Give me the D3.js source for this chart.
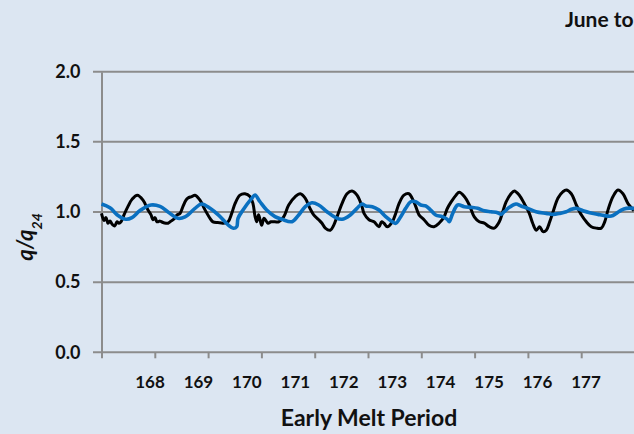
<!DOCTYPE html>
<html>
<head>
<meta charset="utf-8">
<script src="https://cdn.jsdelivr.net/npm/d3@7/dist/d3.min.js"></script>
<style>
  html, body { margin: 0; padding: 0; background: #DCE6F2; overflow: hidden; }
  svg { display: block; font-family: Lato, "Open Sans", sans-serif; }
</style>
</head>
<body>
<svg id="chart" width="634" height="434"></svg>
<script>
// Day of year (decimal) and normalised discharge q/q24 for the measured record
const measuredDay = [167.000,167.047,167.084,167.122,167.159,167.197,167.248,167.291,167.328,167.366,167.422,167.497,167.572,167.672,167.779,167.872,167.929,167.966,168.004,168.041,168.098,168.154,168.210,168.248,168.304,168.360,168.417,168.473,168.529,168.585,168.623,168.692,168.754,168.848,168.942,169.036,169.092,169.186,169.280,169.373,169.443,169.505,169.598,169.692,169.786,169.842,169.880,169.912,169.946,169.974,170.006,170.049,170.124,170.180,170.255,170.325,170.418,170.512,170.636,170.730,170.818,170.912,170.981,171.075,171.137,171.199,171.293,171.356,171.418,171.512,171.606,171.700,171.794,171.887,171.925,172.019,172.113,172.206,172.253,172.300,172.362,172.456,172.520,172.582,172.675,172.769,172.826,172.895,172.957,173.051,173.145,173.238,173.332,173.426,173.488,173.557,173.651,173.713,173.807,173.901,173.994,174.088,174.182,174.276,174.370,174.463,174.527,174.589,174.683,174.745,174.839,174.932,175.026,175.090,175.158,175.221,175.283,175.345,175.409,175.471,175.565,175.659,175.720,175.814,175.908,176.002,176.096,176.189,176.283,176.377,176.441,176.503,176.597,176.690,176.784,176.878,176.990];
const measuredQ   = [0.99,0.94,0.96,0.92,0.935,0.915,0.90,0.93,0.92,0.93,0.98,1.04,1.09,1.12,1.085,1.015,0.98,0.945,0.96,0.93,0.935,0.925,0.92,0.92,0.935,0.95,0.98,0.99,1.04,1.085,1.10,1.11,1.12,1.085,1.015,0.955,0.93,0.925,0.92,0.93,0.99,1.06,1.12,1.13,1.11,1.06,0.97,0.93,0.98,0.945,0.905,0.955,0.92,0.93,0.93,0.93,0.965,1.05,1.11,1.13,1.10,1.025,0.98,0.945,0.92,0.885,0.87,0.905,0.965,1.06,1.13,1.15,1.12,1.04,0.99,0.945,0.93,0.895,0.93,0.92,0.895,0.93,0.99,1.06,1.12,1.13,1.10,1.04,0.98,0.945,0.905,0.895,0.92,0.965,1.025,1.07,1.12,1.14,1.11,1.05,0.965,0.93,0.92,0.895,0.885,0.93,1.00,1.07,1.13,1.15,1.12,1.06,0.99,0.92,0.87,0.895,0.86,0.87,0.93,1.00,1.10,1.145,1.157,1.13,1.05,0.98,0.93,0.895,0.885,0.885,0.93,1.015,1.11,1.157,1.13,1.06,1.01];

// Day of year (decimal) and normalised discharge q/q24 for the modelled record
const modelledDay = [167.000,167.159,167.310,167.460,167.572,167.722,167.929,168.098,168.248,168.435,168.567,168.754,168.880,169.036,169.191,169.379,169.473,169.537,169.561,169.655,169.818,169.880,169.974,170.099,170.255,170.386,170.574,170.700,170.824,170.949,171.075,171.231,171.386,171.512,171.668,171.794,171.887,171.957,172.081,172.206,172.332,172.456,172.520,172.614,172.707,172.801,172.895,172.989,173.083,173.176,173.270,173.394,173.488,173.525,173.589,173.683,173.807,173.932,174.058,174.182,174.308,174.433,174.495,174.557,174.651,174.777,174.871,174.996,175.152,175.345,175.471,175.597,175.720,175.814,175.908,176.034,176.160,176.315,176.441,176.565,176.659,176.753,176.846,176.991];
const modelledQ   = [1.057,1.03,0.975,0.948,0.96,1.01,1.05,1.04,1.00,0.955,0.965,1.026,1.057,1.026,0.979,0.907,0.884,0.895,0.955,1.014,1.097,1.121,1.073,1.014,0.967,0.948,0.931,0.979,1.038,1.066,1.05,1.002,0.962,0.948,0.979,1.026,1.057,1.043,1.038,1.014,0.967,0.931,0.919,0.967,1.026,1.073,1.073,1.05,1.043,1.014,0.979,0.967,0.948,0.931,0.99,1.05,1.038,1.033,1.026,1.009,1.002,0.995,0.983,1.002,1.033,1.057,1.043,1.026,1.002,0.99,0.983,0.99,1.002,1.019,1.026,1.009,0.995,0.983,0.974,0.971,0.99,1.014,1.026,1.026];

// Axis settings
const dayTicks   = [167,168,169,170,171,172,173,174,175,176,177];
const dayLabels  = [168,169,170,171,172,173,174,175,176,177];
const ratioTicks = [0,0.5,1.0,1.5,2.0];

const svg = d3.select("#chart");

const x = d3.scaleLinear().domain([167, 177]).range([101.5, 634.5]);
const y = d3.scaleLinear().domain([0, 2]).range([352.3, 71.7]);
// day labels sit on their own evenly spaced positions under the axis
const xLabel = d3.scaleLinear().domain([168, 177]).range([150, 586]);

const gridColor = "#8C8C8C";

// horizontal gridlines (with the short outside tick on the left)
svg.append("g")
  .selectAll("line")
  .data(ratioTicks)
  .join("line")
  .attr("x1", 93)
  .attr("x2", 634)
  .attr("y1", d => y(d))
  .attr("y2", d => y(d))
  .attr("stroke", gridColor)
  .attr("stroke-width", 2);

// y axis line and tick labels
const yAxis = d3.axisLeft(y)
  .tickValues(ratioTicks)
  .tickFormat(d3.format(".1f"))
  .tickSize(0)
  .tickPadding(21);
const gy = svg.append("g").attr("transform", `translate(${x(167)},0)`).call(yAxis);
gy.select(".domain").attr("stroke", gridColor).attr("stroke-width", 2);
gy.selectAll("text")
  .attr("fill", "#111")
  .style("font-size", "18px")
  .style("font-weight", "700")
  .style("font-family", "Lato, sans-serif");

// x axis tick marks
const xAxis = d3.axisBottom(x)
  .tickValues(dayTicks)
  .tickSize(6)
  .tickFormat("");
const gx = svg.append("g").attr("transform", `translate(0,${y(0)})`).call(xAxis);
gx.select(".domain").remove();
gx.selectAll(".tick line").attr("stroke", gridColor).attr("stroke-width", 2);

// day labels
svg.append("g")
  .selectAll("text")
  .data(dayLabels)
  .join("text")
  .attr("x", d => xLabel(d))
  .attr("y", 388)
  .attr("text-anchor", "middle")
  .attr("fill", "#111")
  .style("font-size", "17px")
  .style("font-weight", "700")
  .text(d => d);

// lines
const line = d3.line()
  .x(d => x(d[0]))
  .y(d => y(d[1]))
  .curve(d3.curveCatmullRom.alpha(0.5));

const measured = measuredDay.map((d, i) => [d, measuredQ[i]]);
const modelled = modelledDay.map((d, i) => [d, modelledQ[i]]);

svg.append("path")
  .datum(measured)
  .attr("fill", "none")
  .attr("stroke", "#000000")
  .attr("stroke-width", 3)
  .attr("stroke-linejoin", "round")
  .attr("d", line);

svg.append("path")
  .datum(modelled)
  .attr("fill", "none")
  .attr("stroke", "#0A70C0")
  .attr("stroke-width", 3.6)
  .attr("stroke-linejoin", "round")
  .attr("d", line);

// axis titles
svg.append("text")
  .attr("x", 369)
  .attr("y", 426)
  .attr("text-anchor", "middle")
  .attr("fill", "#111")
  .style("font-size", "23px")
  .style("font-weight", "700")
  .text("Early Melt Period");

const yt = svg.append("text")
  .attr("transform", "translate(33,237) rotate(-90)")
  .attr("text-anchor", "middle")
  .attr("fill", "#111")
  .style("font-size", "22px")
  .style("font-weight", "700")
  .style("font-style", "italic");
yt.append("tspan").text("q/q");
yt.append("tspan").attr("baseline-shift", "sub").style("font-size", "14px").text("24");

// chart title (runs off the right edge)
svg.append("text")
  .attr("x", 565)
  .attr("y", 27)
  .attr("fill", "#111")
  .style("font-size", "21px")
  .style("font-weight", "700")
  .text("June to July");
</script>
</body>
</html>
